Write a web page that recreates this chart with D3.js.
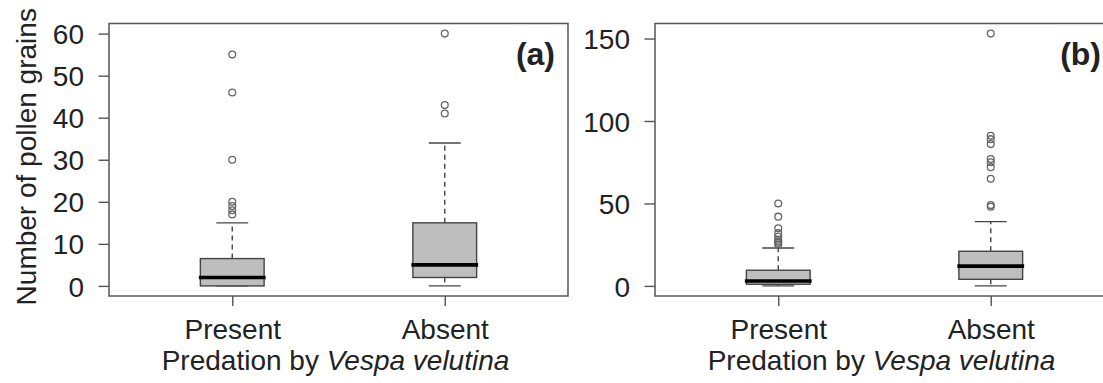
<!DOCTYPE html>
<html>
<head>
<meta charset="utf-8">
<script src="https://cdn.jsdelivr.net/npm/d3@7"></script>
<style>
  body { margin: 0; background: #fff; }
  text { font-family: "Liberation Sans", Arial, sans-serif; fill: #222; }
</style>
</head>
<body>
<div id="wrapper"></div>
<script>
// groups on the x axis
const groups = ["Present", "Absent"]

// panel (a) box stats: [low whisker, Q1, median, Q3, high whisker]
const statsA = [
  [0, 0, 2, 6.5, 15],
  [0, 2, 5, 15, 34],
]
const outliersA = [
  [17, 18, 19, 20, 30, 46, 55],
  [41, 43, 60],
]
const ticksA = [0, 10, 20, 30, 40, 50, 60]

// panel (b)
const statsB = [
  [0, 1, 3, 9.5, 23],
  [0, 4, 12, 21, 39],
]
const outliersB = [
  [25, 26, 27, 28, 30, 32, 35, 42, 50],
  [48, 49, 65, 72, 75, 77, 86, 89, 91, 153],
]
const ticksB = [0, 50, 100, 150]

const panelLabels = ["(a)", "(b)"]

let dimensions = {
  width: 1103,
  height: 383,
  panelWidth: 459,
  top: 23.5,
  bottom: 296,
}

const wrapper = d3.select("#wrapper")
  .append("svg")
    .attr("width", dimensions.width)
    .attr("height", dimensions.height)

wrapper.append("rect")
  .attr("width", dimensions.width)
  .attr("height", dimensions.height)
  .attr("fill", "#fff")

function drawPanel(left, stats, outliers, ticks, label, showYTitle) {
  const g = wrapper.append("g")

  const xScale = d3.scaleLinear()
    .domain([0.42, 2.58])
    .range([left, left + dimensions.panelWidth])

  const allVals = stats.flat().concat(outliers.flat())
  const lo = d3.min(allVals), hi = d3.max(allVals)
  const pad = (hi - lo) * 0.04
  const yScale = d3.scaleLinear()
    .domain([lo - pad, hi + pad])
    .range([dimensions.bottom, dimensions.top])

  // y axis
  const yAxis = g.append("g")
    .attr("transform", `translate(${left},0)`)
    .call(d3.axisLeft(yScale).tickValues(ticks).tickSize(10.5).tickPadding(14.5))
  yAxis.select(".domain").remove()
  yAxis.selectAll("line").attr("stroke", "#555").attr("stroke-width", 1.4)
  yAxis.selectAll("text").style("font-size", "28px").attr("fill", "#222")
    .attr("dy", "0.36em")

  // x axis
  const xAxis = g.append("g")
    .attr("transform", `translate(0,${dimensions.bottom})`)
    .call(d3.axisBottom(xScale).tickValues([1, 2]).tickFormat((d, i) => groups[i])
      .tickSize(10).tickPadding(13))
  xAxis.select(".domain").remove()
  xAxis.selectAll("line").attr("stroke", "#555").attr("stroke-width", 1.4)
  xAxis.selectAll("text").style("font-size", "28px").attr("fill", "#222")

  const boxW = 0.3
  const capW = 0.15

  stats.forEach((s, i) => {
    const cx = i + 1
    const [wLo, q1, med, q3, wHi] = s

    // dashed whiskers
    g.append("line")
      .attr("x1", xScale(cx)).attr("x2", xScale(cx))
      .attr("y1", yScale(q3)).attr("y2", yScale(wHi))
      .attr("stroke", "#444").attr("stroke-width", 1.4)
      .attr("stroke-dasharray", "5,4")
    g.append("line")
      .attr("x1", xScale(cx)).attr("x2", xScale(cx))
      .attr("y1", yScale(q1)).attr("y2", yScale(wLo))
      .attr("stroke", "#444").attr("stroke-width", 1.4)
      .attr("stroke-dasharray", "5,4")

    // caps
    ;[wLo, wHi].forEach(v => {
      g.append("line")
        .attr("x1", xScale(cx - capW / 2 - 0.0)).attr("x2", xScale(cx + capW / 2 + 0.0))
        .attr("y1", yScale(v)).attr("y2", yScale(v))
        .attr("stroke", "#444").attr("stroke-width", 1.4)
    })

    // box
    g.append("rect")
      .attr("x", xScale(cx - boxW / 2))
      .attr("width", xScale(cx + boxW / 2) - xScale(cx - boxW / 2))
      .attr("y", yScale(q3))
      .attr("height", yScale(q1) - yScale(q3))
      .attr("fill", "#bebebe")
      .attr("stroke", "#444").attr("stroke-width", 1.4)

    // median
    g.append("line")
      .attr("x1", xScale(cx - boxW / 2) - 1.5).attr("x2", xScale(cx + boxW / 2) + 1.5)
      .attr("y1", yScale(med)).attr("y2", yScale(med))
      .attr("stroke", "#000").attr("stroke-width", 3.6)

    // outliers
    g.selectAll(null)
      .data(outliers[i])
      .join("circle")
        .attr("cx", xScale(cx))
        .attr("cy", d => yScale(d))
        .attr("r", 3.4)
        .attr("fill", "none")
        .attr("stroke", "#666")
        .attr("stroke-width", 1.3)
  })

  // frame
  g.append("rect")
    .attr("x", left)
    .attr("y", dimensions.top)
    .attr("width", dimensions.panelWidth)
    .attr("height", dimensions.bottom - dimensions.top)
    .attr("fill", "none")
    .attr("stroke", "#555")
    .attr("stroke-width", 1.5)

  // panel label
  g.append("text")
    .attr("x", left + dimensions.panelWidth - 13)
    .attr("y", 65)
    .attr("text-anchor", "end")
    .style("font-size", "32px")
    .style("font-weight", "bold")
    .text(label)

  // x title
  const xt = g.append("text")
    .attr("x", left + dimensions.panelWidth / 2 - 3)
    .attr("y", 370)
    .attr("text-anchor", "middle")
    .style("font-size", "28px")
  xt.append("tspan").text("Predation by ")
  xt.append("tspan").style("font-style", "italic").text("Vespa velutina")

  if (showYTitle) {
    g.append("text")
      .attr("transform", `translate(36,${(dimensions.top + dimensions.bottom) / 2 - 3}) rotate(-90)`)
      .attr("text-anchor", "middle")
      .style("font-size", "28px")
      .text("Number of pollen grains")
  }
}

drawPanel(109, statsA, outliersA, ticksA, panelLabels[0], true)
drawPanel(655, statsB, outliersB, ticksB, panelLabels[1], false)
</script>
</body>
</html>
